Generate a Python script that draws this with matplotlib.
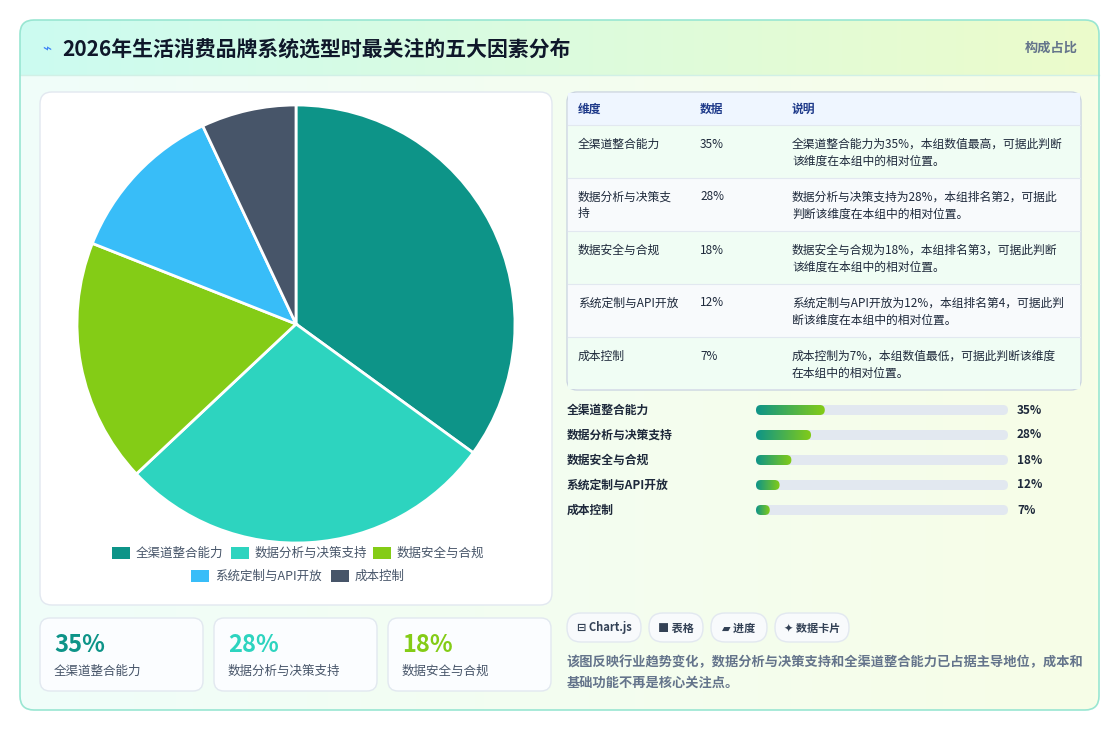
import numpy as np
import matplotlib.pyplot as plt
from matplotlib.patches import FancyBboxPatch, Rectangle
from matplotlib.colors import LinearSegmentedColormap

plt.rcParams['font.family'] = ['Noto Sans CJK SC', 'DejaVu Sans']

categories = ["全渠道整合能力", "数据分析与决策支持", "数据安全与合规", "系统定制与API开放", "成本控制"]
values = [35, 28, 18, 12, 7]
colors = ["#0d9488", "#2dd4bf", "#84cc16", "#38bdf8", "#475569"]
notes = [
    ["全渠道整合能力为35%，本组数值最高，可据此判断", "该维度在本组中的相对位置。"],
    ["数据分析与决策支持为28%，本组排名第2，可据此", "判断该维度在本组中的相对位置。"],
    ["数据安全与合规为18%，本组排名第3，可据此判断", "该维度在本组中的相对位置。"],
    ["系统定制与API开放为12%，本组排名第4，可据此判", "断该维度在本组中的相对位置。"],
    ["成本控制为7%，本组数值最低，可据此判断该维度", "在本组中的相对位置。"],
]
cat_wrapped = ["全渠道整合能力", "数据分析与决策支\n持", "数据安全与合规", "系统定制与API开放", "成本控制"]

W, H = 1120, 731
fig = plt.figure(figsize=(W / 100, H / 100), dpi=100)
fig.patch.set_facecolor("white")
ax = fig.add_axes([0, 0, 1, 1])
ax.set_xlim(0, W)
ax.set_ylim(H, 0)
ax.axis("off")


def box(x0, y0, x1, y1, fc, ec="none", r=10, lw=1, z=1):
    ax.add_patch(FancyBboxPatch((x0, y0), x1 - x0, y1 - y0,
                                boxstyle=f"round,pad=0,rounding_size={r}",
                                fc=fc, ec=ec, lw=lw, zorder=z))


# outer card with soft gradient
grad = np.linspace(0, 1, 256).reshape(1, -1)
bg = LinearSegmentedColormap.from_list("bg", ["#f0fdfa", "#f7fee7"])
hd = LinearSegmentedColormap.from_list("hd", ["#ccfbf1", "#ecfccb"])
box(20, 20, 1099, 710, "none", ec="#99e6d2", r=14, lw=1.2, z=3)
im = ax.imshow(grad, extent=(20, 1099, 710, 20), cmap=bg, aspect="auto", zorder=0)
clip = FancyBboxPatch((20, 20), 1079, 690, boxstyle="round,pad=0,rounding_size=14",
                      transform=ax.transData)
im.set_clip_path(clip)
im2 = ax.imshow(grad, extent=(20, 1099, 75, 20), cmap=hd, aspect="auto", zorder=0.5)
im2.set_clip_path(clip)
ax.plot([20, 1099], [75, 75], color="#d1f0e6", lw=1, zorder=1)

ax.text(42, 49, "⌁", fontsize=11, color="#3b82f6", va="center", family=["DejaVu Sans"])
ax.text(62, 49, "2026年生活消费品牌系统选型时最关注的五大因素分布", fontsize=15,
        fontweight="bold", color="#0f172a", va="center")
ax.text(1078, 48, "构成占比", fontsize=9.5, color="#64748b", ha="right", va="center",
        fontweight="bold")

# pie panel
box(40, 92, 552, 605, "white", ec="#e2e8f0", r=12)
pax = fig.add_axes([(296 - 219) / W, 1 - (324 + 219) / H, 438 / W, 438 / H])
pax.pie(values, colors=colors, startangle=90, counterclock=False,
        wedgeprops=dict(edgecolor="white", linewidth=2))
pax.set_xlim(-1, 1)
pax.set_ylim(-1, 1)
pax.set_aspect("equal")
pax.axis("off")

leg_pos = {0: (112, 553), 1: (231, 553), 2: (373, 553), 3: (191, 576), 4: (331, 576)}
for i, (lx, ly) in leg_pos.items():
    ax.add_patch(Rectangle((lx, ly - 6), 18, 12, fc=colors[i], ec="none", zorder=2))
    ax.text(lx + 24, ly, categories[i], fontsize=9, color="#475569", va="center")

# stat cards
for i, x0 in enumerate([40, 214, 388]):
    box(x0, 618, x0 + 163, 691, "#fbfdff", ec="#e2e8f0", r=10)
    ax.text(x0 + 14, 645, f"{values[i]}%", fontsize=17, fontweight="bold",
            color=colors[i], va="center")
    ax.text(x0 + 14, 671, categories[i], fontsize=9, color="#475569", va="center")

# table
box(567, 92, 1081, 390, "white", ec="#cbd5e1", r=10, z=1)
ax.add_patch(Rectangle((568, 93), 512, 32, fc="#eff6ff", ec="none", zorder=1.5))
for t, x in zip(["维度", "数据", "说明"], [578, 700, 792]):
    ax.text(x, 109, t, fontsize=8.5, fontweight="bold", color="#1e3a8a", va="center")
for i in range(5):
    y0 = 125 + i * 53
    ax.add_patch(Rectangle((568, y0), 512, 53 if i < 4 else 52,
                           fc="#f0fdf4" if i % 2 == 0 else "#f8fafc", ec="none", zorder=1.5))
    ax.plot([568, 1080], [y0, y0], color="#e2e8f0", lw=0.8, zorder=1.6)
    lines = cat_wrapped[i].split("\n")
    for k, ln in enumerate(lines):
        ax.text(578, y0 + 19 + k * 17, ln, fontsize=8.5, color="#1e293b", va="center",
                fontweight="medium")
    ax.text(700, y0 + 19, f"{values[i]}%", fontsize=8.5, color="#1e293b", va="center",
            fontweight="medium")
    for k, ln in enumerate(notes[i]):
        ax.text(792, y0 + 19 + k * 17, ln, fontsize=8.5, color="#1e293b", va="center",
                fontweight="medium")

# progress bars
pg = LinearSegmentedColormap.from_list("pg", ["#0d9488", "#84cc16"])
tx0, tx1 = 756, 1008
for i, v in enumerate(values):
    y = 410 + i * 25
    ax.text(567, y, categories[i], fontsize=8.5, fontweight="bold", color="#1e293b", va="center")
    box(tx0, y - 5, tx1, y + 5, "#e2e8f0", r=5, z=1)
    fw = (tx1 - tx0) * v * 0.78 / 100
    fill = ax.imshow(grad, extent=(tx0, tx0 + fw, y + 5, y - 5), cmap=pg, aspect="auto", zorder=2)
    cp = FancyBboxPatch((tx0, y - 5), fw, 10, boxstyle="round,pad=0,rounding_size=5",
                        transform=ax.transData)
    fill.set_clip_path(cp)
    ax.text(1017, y, f"{v}%", fontsize=8.5, fontweight="bold", color="#1e293b", va="center")

# buttons
for lbl, x0, x1 in [("⊟ Chart.js", 567, 641), ("■ 表格", 649, 703),
                    ("▰ 进度", 711, 767), ("✦ 数据卡片", 775, 849)]:
    box(x0, 613, x1, 642, "#f8fafc", ec="#e2e8f0", r=14)
    ax.text((x0 + x1) / 2, 628, lbl, fontsize=8, fontweight="bold", color="#334155",
            ha="center", va="center")

ax.text(567, 662, "该图反映行业趋势变化，数据分析与决策支持和全渠道整合能力已占据主导地位，成本和",
        fontsize=9.5, color="#64748b", va="center", fontweight="bold")
ax.text(567, 683, "基础功能不再是核心关注点。", fontsize=9.5, color="#64748b", va="center",
        fontweight="bold")

fig.savefig("out.png", dpi=100)
